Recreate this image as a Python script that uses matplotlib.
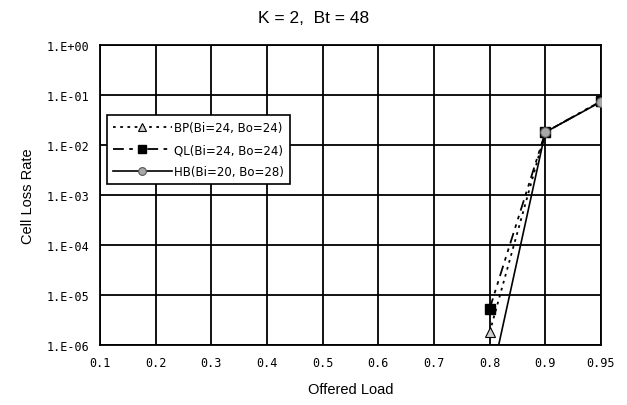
import matplotlib.pyplot as plt

# x categories (evenly spaced on the chart)
loads = ["0.1", "0.2", "0.3", "0.4", "0.5", "0.6", "0.7", "0.8", "0.9", "0.95"]

# only the last three loads have visible values
pts = [7, 8, 9]
bp = [1.8e-6, 1.8e-2, 7.5e-2]
ql = [5.3e-6, 1.8e-2, 7.5e-2]
hb = [1.5e-7, 1.8e-2, 7.3e-2]

ytick_vals = [1e-6, 1e-5, 1e-4, 1e-3, 1e-2, 1e-1, 1e0]
ytick_labels = ["1.E-06", "1.E-05", "1.E-04", "1.E-03", "1.E-02", "1.E-01", "1.E+00"]

fig = plt.figure(figsize=(6.27, 4.06), dpi=100)
ax = fig.add_axes([0.1595, 0.1478, 0.799, 0.739])

ax.plot(pts, bp, color='black', linestyle=(0, (1.5, 2.5)), linewidth=1.3,
        marker='^', markersize=7, markerfacecolor='#d0d0d0', markeredgecolor='black',
        markeredgewidth=0.8, label='BP(Bi=24, Bo=24)', zorder=3)
ax.plot(pts, ql, color='black', linestyle=(0, (6, 3, 2, 3, 2, 3)), linewidth=1.3,
        marker='s', markersize=6.5, markerfacecolor='black', markeredgecolor='black',
        label='QL(Bi=24, Bo=24)', zorder=3)
ax.plot(pts, hb, color='black', linestyle='-', linewidth=1.2,
        marker='o', markersize=7, markerfacecolor='#a8a8a8', markeredgecolor='#555555',
        markeredgewidth=0.8, label='HB(Bi=20, Bo=28)', zorder=4)

ax.set_yscale('log')
ax.set_ylim(1e-6, 1e0)
ax.set_xlim(0, len(loads) - 1)
ax.set_xticks(range(len(loads)))
ax.set_xticklabels(loads, family='DejaVu Sans Mono', fontsize=8.5)
ax.set_yticks(ytick_vals)
ax.set_yticklabels(ytick_labels, family='DejaVu Sans Mono', fontsize=8.5)
ax.minorticks_off()
ax.tick_params(length=0, pad=8)

ax.grid(True, color='black', linewidth=1.3)
ax.set_axisbelow(True)
for s in ax.spines.values():
    s.set_linewidth(1.3)

ax.set_xlabel("Offered Load", fontsize=10.5, family='Liberation Sans', labelpad=9)
ax.set_ylabel("Cell Loss Rate", fontsize=10.5, family='Liberation Sans', labelpad=8)
fig.text(0.5, 0.955, "K = 2,  Bt = 48", ha='center', va='center',
         fontsize=12.5, family='Liberation Sans')

leg = ax.legend(loc='upper left', bbox_to_anchor=(0.014, 0.765), fontsize=8.5,
                handlelength=5.0, frameon=True, fancybox=False, framealpha=1,
                edgecolor='black', borderpad=0.5, labelspacing=0.75,
                handletextpad=0.2, borderaxespad=0, markerscale=0.8)
leg.get_frame().set_linewidth(1.2)

fig.savefig("out.png", dpi=100)
